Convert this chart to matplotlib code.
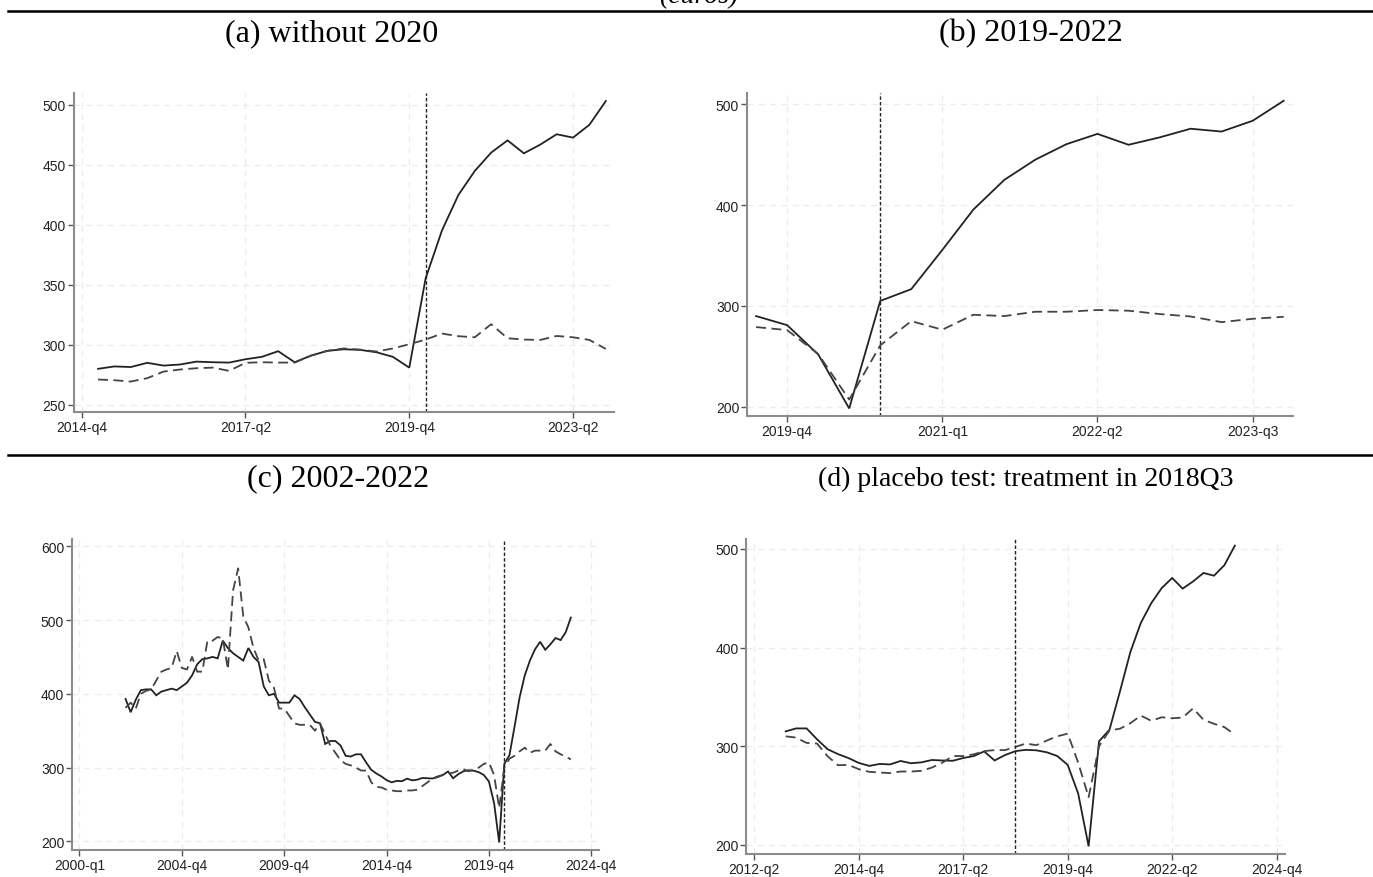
import numpy as np
import matplotlib
matplotlib.use("Agg")
import matplotlib.pyplot as plt
from matplotlib import font_manager


W, H = 1373, 878

# treated series (actual), 2002q1 - 2023q4
treated_start = "2002q1"
treated = [393, 375, 392, 405,
           406, 406, 398, 403,
           405, 407, 405, 410,
           415, 425, 440, 447,
           448, 450, 448, 472,
           462, 455, 450, 445,
           462, 450, 443, 410,
           398, 400, 388, 388,
           388, 398, 393, 382,
           372, 362, 360, 332,
           336, 336, 330, 316,
           315, 318, 318, 307,
           297, 292, 288, 283,
           280, 282, 281.5, 285,
           282.7, 283.6, 286, 285.5,
           285.2, 288, 290, 294.7,
           285.5, 291, 295, 296.3,
           295.8, 293.8, 290, 281,
           252, 198.5, 305, 316.7,
           355.5, 395.5, 425, 445,
           460.3, 470.5, 459.7, 467,
           475.6, 472.8, 483.5, 503.3]

# synthetic controls
synth_a = [271.1, 270.5, 269.4, 272.2, 277.7, 279.4, 280.5, 281, 278.3, 285,
           285.5, 285.2, 285.2, 291, 295, 297, 296, 294.4, 297, 300.5,
           304.4, 309.4, 307.2, 306.3, 317.2, 305.5, 304.4, 304.1, 307.4, 306.3,
           304.1, 296.6]
synth_b = [279.1, 276.1, 252.4, 207.3, 261, 285, 276.5, 291.3, 290, 294.3,
           294.3, 296, 295.3, 292, 289.6, 284, 287.3, 289.3]
synth_c = [381, 388, 380, 400,
           404, 406, 418, 430,
           433, 435, 458, 435,
           433, 450, 430, 430,
           472, 472, 477, 475,
           433, 540, 570, 505,
           490, 462, 445, 447,
           418, 408, 380, 380,
           370, 360, 358, 358,
           358, 350, 360, 345,
           330, 320, 310, 305,
           303, 300, 296, 296,
           280, 274, 273, 270,
           269, 268, 268, 269,
           269, 270, 275, 280,
           285, 287, 290, 292,
           293, 296, 298, 295,
           297, 300, 305, 307,
           290, 245, 300, 312,
           316, 322, 327, 320,
           323, 323, 323, 332,
           322, 318, 315, 311]
synth_d = [310, 308.7, 303.3, 302.7, 290, 280.7, 281, 276.7,
           274, 273.3, 272.7, 274.3, 274.3, 275, 278.3, 283.3,
           290, 290, 291.7, 295, 296, 296, 299.3, 302.7,
           301, 305.7, 310, 312.7, 283.3, 248.3, 300, 316,
           317.7, 323.3, 331, 325.7, 329.3, 328.3, 329, 338.3,
           326.7, 322.7, 319.3, 311.7]

titles = ["(a) without 2020", "(b) 2019-2022", "(c) 2002-2022",
          "(d) placebo test: treatment in 2018Q3"]

ticks_a = ["2014-q4", "2017-q2", "2019-q4", "2023-q2"]
ticks_b = ["2019-q4", "2021-q1", "2022-q2", "2023-q3"]
ticks_c = ["2000-q1", "2004-q4", "2009-q4", "2014-q4", "2019-q4", "2024-q4"]
ticks_d = ["2012-q2", "2014-q4", "2017-q2", "2019-q4", "2022-q2", "2024-q4"]


def qnum(s):
    s = s.replace("-", "")
    return int(s[:4]) * 4 + int(s[-1]) - 1


t0 = qnum(treated_start)
tq = np.arange(len(treated)) + t0
treated = np.array(treated)


def sl(start, end):
    m = (tq >= qnum(start)) & (tq <= qnum(end))
    return tq[m], treated[m]


names = {f.name for f in font_manager.fontManager.ttflist}
tick_font = "Liberation Sans Narrow" if "Liberation Sans Narrow" in names else "Liberation Sans"

fig = plt.figure(figsize=(W / 100, H / 100), dpi=100)


def add_ax(x0, y0, x1, y1):
    return fig.add_axes([x0 / W, 1 - y1 / H, (x1 - x0) / W, (y1 - y0) / H])


def style(ax, yticks, xt_pos, xt_lab, xlim, ylim):
    ax.set_xlim(*xlim)
    ax.set_ylim(*ylim)
    ax.set_yticks(yticks)
    ax.set_xticks(xt_pos)
    ax.set_xticklabels(xt_lab)
    for s in ["top", "right"]:
        ax.spines[s].set_visible(False)
    for s in ["left", "bottom"]:
        ax.spines[s].set_color("#8c8c8c")
        ax.spines[s].set_linewidth(1.5)
    ax.tick_params(length=4, width=1, color="#555555", labelsize=10,
                   labelcolor="#222222", pad=1.5)
    for lab in ax.get_xticklabels() + ax.get_yticklabels():
        lab.set_family(tick_font)
    ax.grid(True, color="#ececec", linestyle=(0, (5, 4)), linewidth=0.9)
    ax.set_axisbelow(True)


def draw(ax, x, y_tr, y_sc, vline):
    ax.plot(x, y_tr, color="#222222", lw=1.3, solid_joinstyle="miter")
    ax.plot(x, y_sc, color="#444444", lw=1.3, linestyle=(0, (5.5, 3)))
    ax.axvline(vline, color="#222222", lw=1.0, linestyle=(0, (2.5, 1.5)))


# (a) without 2020: sequential index with 2020 removed
xa, ya = sl("2015q1", "2023q4")
keep = (xa < qnum("2020q1")) | (xa > qnum("2020q4"))
ya = ya[keep]
pos_a = np.arange(1, len(ya) + 1)
ax = add_ax(73.5, 94, 614, 413)
draw(ax, pos_a, ya, synth_a, 21)
style(ax, [250, 300, 350, 400, 450, 500], [0, 10, 20, 30], ticks_a,
      (-0.5, 32.5), (244, 510))

# (b) 2019-2022
xb, yb = sl("2019q3", "2023q4")
ax = add_ax(746.8, 94, 1293, 417)
draw(ax, xb, yb, synth_b, qnum("2020q3"))
style(ax, [200, 300, 400, 500], [qnum(t) for t in ticks_b], ticks_b,
      (qnum("2019q4") - 1.3, qnum("2019q4") + 16.3), (191, 511))

# (c) 2002-2022
xc, yc = sl("2002q1", "2023q4")
ax = add_ax(71.8, 540, 599, 851)
draw(ax, xc, yc, synth_c, qnum("2020q3"))
base = qnum("2004q4")
style(ax, [200, 300, 400, 500, 600], [base + 20 * k for k in range(-1, 5)], ticks_c,
      (base - 21.5, base + 81.5), (188.3, 609.8))

# (d) placebo
xd, yd = sl("2013q1", "2023q4")
ax = add_ax(746.4, 540, 1285, 855)
draw(ax, xd, yd, synth_d, qnum("2018q3"))
style(ax, [200, 300, 400, 500], [qnum(t) for t in ticks_d], ticks_d,
      (qnum("2012q2") - 0.76, qnum("2012q2") + 50.8), (190.7, 510))

# headings and rules
serif = "Liberation Serif"
fig.text(699 / W, 1 + 3 / H, "(euros)", ha="center", va="center",
         fontsize=20, style="italic", family=serif)
for yy in [12, 456]:
    fig.add_artist(plt.Line2D([8 / W, 1], [1 - yy / H, 1 - yy / H],
                              color="black", lw=1.8, transform=fig.transFigure))
pos_t = [(332, 34, 23), (1031, 34, 23), (338, 479, 23), (1026, 479, 20)]
for t, (px, py, fs) in zip(titles, pos_t):
    fig.text(px / W, 1 - py / H, t, ha="center", va="center", fontsize=fs,
             family=serif)

fig.savefig("out.png", dpi=100)
